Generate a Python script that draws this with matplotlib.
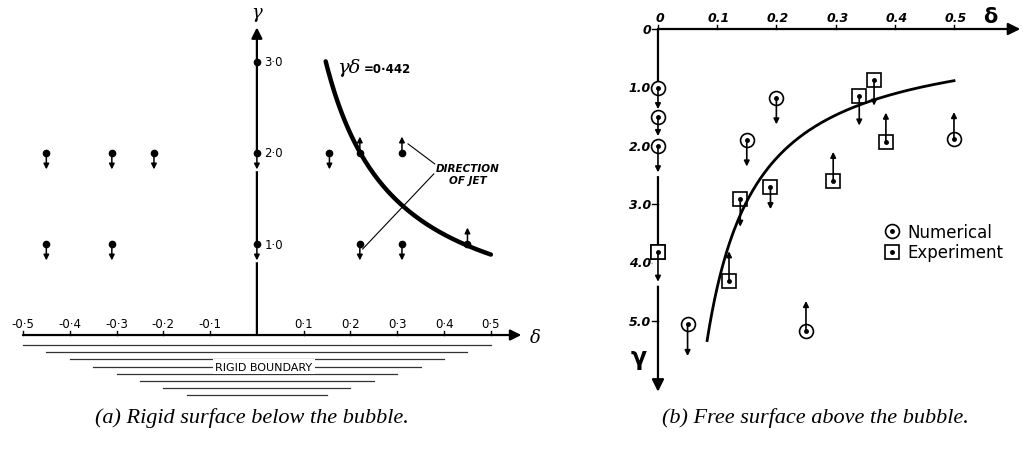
import matplotlib.pyplot as plt
import matplotlib.patheffects as pe
import numpy as np
from matplotlib.legend_handler import HandlerTuple

# (a) rigid wall below the bubble: jet direction +1 away from wall, -1 towards it, 0 none
rigid_delta = [-0.45, -0.31, -0.22, 0.0, 0.155, 0.22, 0.31,
               -0.45, -0.31, 0.0, 0.22, 0.31, 0.45,
               0.0]
rigid_gamma = [2.0, 2.0, 2.0, 2.0, 2.0, 2.0, 2.0,
               1.0, 1.0, 1.0, 1.0, 1.0, 1.0,
               3.0]
rigid_jet = [-1, -1, -1, -1, -1, 1, 1,
             -1, -1, -1, -1, -1, 1,
             0]

# (b) free surface above the bubble: jet given as change of gamma (positive = downwards)
num_delta = [0.0, 0.0, 0.0, 0.2, 0.15, 0.5, 0.05, 0.25]
num_gamma = [1.0, 1.5, 2.0, 1.18, 1.9, 1.88, 5.04, 5.16]
num_jet = [0.37, 0.33, 0.45, 0.45, 0.45, -0.46, 0.55, -0.51]
exp_delta = [0.0, 0.139, 0.19, 0.296, 0.34, 0.365, 0.385, 0.12]
exp_gamma = [3.82, 2.9, 2.7, 2.6, 1.15, 0.88, 1.93, 4.3]
exp_jet = [0.5, 0.48, 0.38, -0.5, 0.5, 0.43, -0.5, -0.5]

gd_const = 0.442
rigid_curve_delta = (0.147, 0.5)
free_curve_delta = (0.083, 0.5)

rigid_ticks = [-0.5, -0.4, -0.3, -0.2, -0.1, 0.1, 0.2, 0.3, 0.4, 0.5]
rigid_ticklabels = ['-0·5', '-0·4', '-0·3', '-0·2', '-0·1', '0·1', '0·2', '0·3', '0·4', '0·5']
rigid_yticks = [1.0, 2.0, 3.0]
rigid_yticklabels = ['1·0', '2·0', '3·0']
boundary_half = [0.5, 0.45, 0.4, 0.35, 0.3, 0.25, 0.2, 0.15]

free_ticks = [0, 0.1, 0.2, 0.3, 0.4, 0.5]
free_ticklabels = ['0', '0.1', '0.2', '0.3', '0.4', '0.5']
free_yticks = [0, 1, 2, 3, 4, 5]
free_yticklabels = ['0', '1.0', '2.0', '3.0', '4.0', '5.0']


def arrow(ax, x0, y0, x1, y1, lw=1.2, scale=8, zorder=5, halo=0):
    if halo:
        # white copy underneath cuts a gap into the axis line
        w = ax.annotate('', xy=(x1, y1), xytext=(x0, y0), annotation_clip=False,
                        arrowprops=dict(arrowstyle='-|>', color='white', lw=lw, mutation_scale=scale,
                                        shrinkA=0, shrinkB=0), zorder=2.5)
        w.arrow_patch.set_path_effects([pe.Stroke(linewidth=lw + halo, foreground='white'), pe.Normal()])
    ax.annotate('', xy=(x1, y1), xytext=(x0, y0), annotation_clip=False,
                arrowprops=dict(arrowstyle='-|>', color='k', lw=lw, mutation_scale=scale,
                                shrinkA=0, shrinkB=0), zorder=zorder)


fig = plt.figure(figsize=(10.23, 4.52), dpi=100)

# ---------------- (a) rigid surface ----------------
ax1 = fig.add_axes([0, 52 / 452, 540 / 1023, 400 / 452])
ax1.set_xlim(-0.549, 0.605)
ax1.set_ylim(-0.703, 3.692)
ax1.axis('off')

arrow(ax1, -0.5, 0, 0.565, 0, lw=1.6, scale=16, zorder=2)
arrow(ax1, 0, 0, 0, 3.38, lw=1.6, scale=16, zorder=2)
for t, lab in zip(rigid_ticks, rigid_ticklabels):
    ax1.plot([t, t], [0, 0.045], color='k', lw=1)
    ax1.text(t, 0.06, lab, ha='center', va='bottom', fontsize=8.5)
for t, lab in zip(rigid_yticks, rigid_yticklabels):
    ax1.text(0.016, t, lab, ha='left', va='center', fontsize=8.5)
ax1.text(0.596, -0.02, 'δ', ha='center', va='center', fontsize=13, family='DejaVu Serif', style='italic')
ax1.text(0, 3.55, 'γ', ha='center', va='center', fontsize=13, family='DejaVu Serif', style='italic')

# hatching for the rigid boundary
for i, h in enumerate(boundary_half):
    y = -0.11 - 0.079 * i
    ax1.plot([-h, h], [y, y], color='#333333', lw=0.9)
ax1.text(0.015, -0.11 - 0.079 * 3, 'RIGID BOUNDARY', ha='center', va='center', fontsize=8,
         bbox=dict(facecolor='white', edgecolor='none', pad=1.5))

d = np.linspace(rigid_curve_delta[0], rigid_curve_delta[1], 200)
ax1.plot(d, gd_const / d, color='k', lw=3.2, zorder=3, solid_capstyle='round')
ax1.text(0.171, 2.89, 'γδ', fontsize=14, family='DejaVu Serif', style='italic', va='baseline')
ax1.text(0.229, 2.89, '=0·442', fontsize=8.5, fontweight='bold', va='baseline')

ax1.plot(rigid_delta, rigid_gamma, 'o', color='k', ms=4.5, zorder=4)
for x, y, j in zip(rigid_delta, rigid_gamma, rigid_jet):
    if j:
        arrow(ax1, x, y + 0.035 * j, x, y + 0.18 * j, lw=1.1, scale=8, halo=4 if x == 0 else 0)

ax1.text(0.45, 1.77, 'DIRECTION\nOF JET', ha='center', va='center', fontsize=7.5,
         fontweight='bold', style='italic', linespacing=1.3)
ax1.plot([0.323, 0.38], [2.10, 1.88], color='k', lw=0.8)
ax1.plot([0.378, 0.226], [1.77, 0.945], color='k', lw=0.8)

# ---------------- (b) free surface ----------------
ax2 = fig.add_axes([560 / 1023, 52 / 452, 463 / 1023, 400 / 452])
ax2.set_xlim(-0.1655, 0.6166)
ax2.set_ylim(6.325, -0.513)
ax2.axis('off')

arrow(ax2, 0, 0, 0.612, 0, lw=1.6, scale=18, zorder=2)
arrow(ax2, 0, 0, 0, 6.2, lw=1.6, scale=18, zorder=2)
for t, lab in zip(free_ticks, free_ticklabels):
    ax2.plot([t, t], [0, -0.07], color='k', lw=1)
    ax2.text(t + 0.003, -0.2, lab, ha='center', va='center', fontsize=9,
             fontweight='bold', style='italic')
for t, lab in zip(free_yticks, free_yticklabels):
    ax2.plot([-0.01, 0], [t, t], color='k', lw=1)
    ax2.text(-0.012, t, lab, ha='right', va='center', fontsize=9,
             fontweight='bold', style='italic')
ax2.text(0.561, -0.22, 'δ', ha='center', va='center', fontsize=15, fontweight='bold')
ax2.text(-0.032, 5.6, 'γ', ha='center', va='center', fontsize=17, fontweight='bold')

d = np.linspace(free_curve_delta[0], free_curve_delta[1], 200)
ax2.plot(d, gd_const / d, color='k', lw=2, zorder=3)

circ = ax2.plot(num_delta, num_gamma, 'o', ms=10, mfc='white', mec='k', mew=1.2, zorder=4)[0]
sq = ax2.plot(exp_delta, exp_gamma, 's', ms=10, mfc='none', mec='k', mew=1.2, zorder=4)[0]
dots = ax2.plot(num_delta + exp_delta, num_gamma + exp_gamma, 'o', color='k', ms=2.5, zorder=5)[0]
# squares on the axis need a white face to hide the line
ax2.plot([x for x in exp_delta if x == 0], [g for x, g in zip(exp_delta, exp_gamma) if x == 0],
         's', ms=10, mfc='white', mec='k', mew=1.2, zorder=4)

for x, y, j in zip(num_delta + exp_delta, num_gamma + exp_gamma, num_jet + exp_jet):
    arrow(ax2, x, y, x, y + j, lw=1.2, scale=8, halo=7 if x == 0 else 0)

ax2.legend(handles=[(circ, dots), (sq, dots)], labels=['Numerical', 'Experiment'],
           handler_map={tuple: HandlerTuple(ndivide=1, pad=0)},
           loc='upper left', bbox_to_anchor=(884 / 1023, 1 - 224 / 452),
           bbox_transform=fig.transFigure, frameon=False, fontsize=12,
           handlelength=0.9, handletextpad=0.5, labelspacing=0.15, borderpad=0, borderaxespad=0)

fig.text(252 / 1023, 1 - 418 / 452, '(a) Rigid surface below the bubble.', ha='center', va='center',
         fontsize=16, family='Liberation Serif', style='italic')
fig.text(815 / 1023, 1 - 418 / 452, '(b) Free surface above the bubble.', ha='center', va='center',
         fontsize=16, family='Liberation Serif', style='italic')

fig.savefig('out.png', dpi=100)
